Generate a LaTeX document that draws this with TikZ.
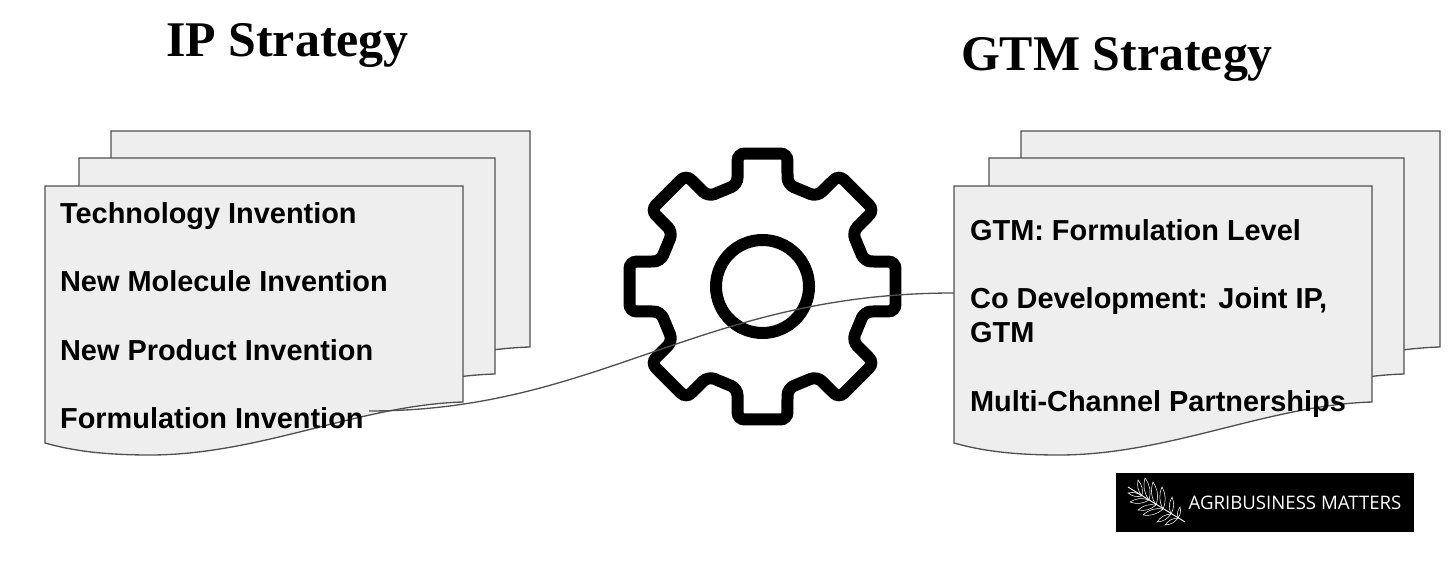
\documentclass[tikz,border=0pt]{standalone}
\usepackage{fontspec}
\setmainfont{Liberation Sans}
\newfontfamily\titlefont{Liberation Serif}
\newfontfamily\logofont{Open Sans}
\usetikzlibrary{positioning}
\definecolor{colSheet}{RGB}{238,238,238}
\definecolor{colEdge}{RGB}{80,80,80}

% one page of a stack: left, top, right, then bottom of the right edge
\newcommand{\docsheet}[3]{%
  \draw[sheet, shift={(#1,#2)}] (0,0) -- (#3,0) -- (#3,216)
    .. controls (#3-103,219) and (215,269) .. (105,269)
    .. controls (55,269) and (25,264) .. (0,257) -- cycle;
}

\begin{document}
\begin{tikzpicture}[
  x=0.02cm, y=-0.02cm,
  sheet/.style={draw=colEdge, fill=colSheet, line width=0.75pt},
  item/.style={anchor=west, inner sep=3pt, text height=11.5pt, text depth=3.5pt,
               font=\fontsize{16.45pt}{19.4pt}\selectfont\bfseries, align=left},
  heading/.style={anchor=center, inner sep=0pt, font=\fontsize{28.4pt}{32pt}\selectfont\titlefont\bfseries},
  link/.style={draw=colEdge, line width=0.75pt},
  leaflet/.style={draw=white, line width=0.3pt},
]

\useasboundingbox (0,0) rectangle (1456,580);

% Titles
\node[heading] (iptitle) at (287.5,45) {IP Strategy};
\node[heading] (gtmtitle) at (1117,59) {GTM Strategy};

% Left stack
\docsheet{111}{131}{419}
\docsheet{79}{158}{416}
\docsheet{45}{186}{418}

% Right stack
\docsheet{1021}{131}{419}
\docsheet{989}{158}{415}
\docsheet{954}{186}{418}

% Left items
\node[item] (techinv) at (54.5,216) {Technology Invention};
\node[item] (molinv) at (54.5,284) {New Molecule Invention};
\node[item] (prodinv) at (54.5,353) {New Product Invention};
\node[item] (forminv) at (54.5,421) {Formulation Invention};

% Right items
\node[item] (gtmform) at (964.5,233) {GTM: Formulation Level};
\node[item, anchor=north west, text height=, text depth=] (codev) at (964.5,282) {Co Development: Joint IP,\\GTM};
\node[item] (multichan) at (964.5,404) {Multi-Channel Partnerships};
\coordinate (gtmedge) at (954,293);

% Gear
\begin{scope}[shift={(762.5,286.5)}]
  \draw[line width=0.24cm, rounded corners=0.14cm] (22.5:103.8)
    \foreach \a in {45,90,...,360} {
      -- ({\a-13.8}:105) -- ({\a-10.6}:135.3) -- ({\a+10.6}:135.3) -- ({\a+13.8}:105)
    } -- cycle;
  \draw[line width=0.24cm] (0,0) circle[radius=46.5];
\end{scope}

% Connector
\draw[link] ([yshift=5.7pt]forminv.east) .. controls (600,411) and (700,293) .. (gtmedge);

% Logo
\node[fill=black, minimum width=5.96cm, minimum height=1.18cm, inner sep=0pt] (logo) at (1265,502.5) {};
\node[text=white, inner sep=0pt, font=\fontsize{10.6pt}{13pt}\selectfont\logofont] (logotext) at (1295,503) {AGRIBUSINESS MATTERS};
\draw[leaflet, line width=0.5pt] (1185,522) -- (1128,487);
\foreach \rx/\ry/\tx/\ty in {1142/496/1138/480, 1149/500/1145/478, 1156/505/1153/482,
    1163/509/1162/487, 1171/514/1172/497, 1178/518/1180/507,
    1142/496/1128/493, 1149/500/1130/502, 1156/505/1138/510,
    1163/509/1143/515, 1171/514/1157/522, 1178/518/1165/525} {
  \draw[leaflet] (\rx,\ry) to[bend left=25] (\tx,\ty) to[bend left=25] (\rx,\ry);
}

\end{tikzpicture}
\end{document}
